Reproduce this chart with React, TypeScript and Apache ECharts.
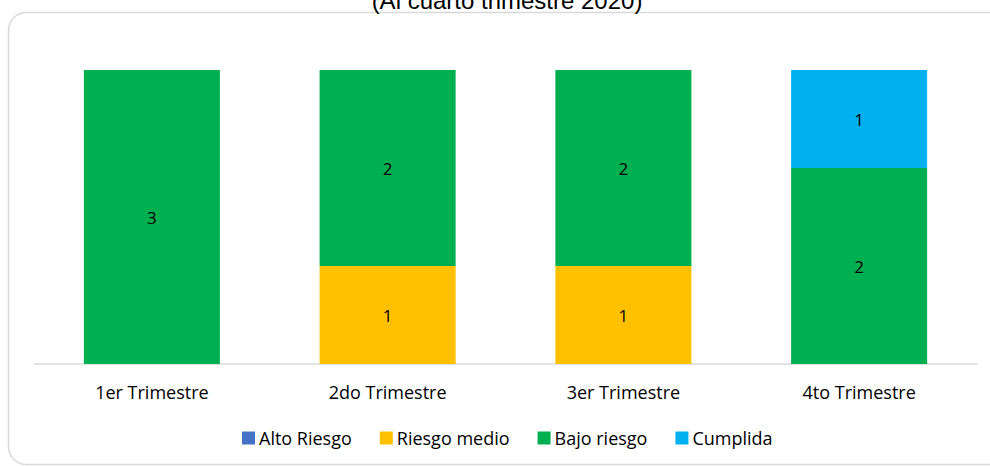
import React, { useEffect, useRef } from "react";
import * as echarts from "echarts";

const categories = ["1er Trimestre", "2do Trimestre", "3er Trimestre", "4to Trimestre"];
const altoRiesgo = [0, 0, 0, 0];
const riesgoMedio = [0, 1, 1, 0];
const bajoRiesgo = [3, 2, 2, 2];
const cumplida = [0, 0, 0, 1];
const seriesNames = ["Alto Riesgo", "Riesgo medio", "Bajo riesgo", "Cumplida"];
const seriesColors = ["#4472C4", "#FFC000", "#00B050", "#00B0F0"];
const titleText = "(Al cuarto trimestre 2020)";

const FONT = "'Open Sans'";

export default function App() {
  const ref = useRef<HTMLDivElement>(null);
  useEffect(() => {
    if (!ref.current) return;
    const chart = echarts.init(ref.current, null, { renderer: "svg" });
    const dataSets = [altoRiesgo, riesgoMedio, bajoRiesgo, cumplida];
    chart.setOption({
      animation: false,
      textStyle: { fontFamily: FONT },
      graphic: [
        {
          type: "rect",
          z: -10,
          shape: { x: 8.5, y: 12.5, width: 1000, height: 452, r: 18 },
          style: { fill: "#fff", stroke: "#d9d9d9", lineWidth: 1.5 },
        },
        {
          type: "text",
          x: 507,
          y: 12,
          style: {
            text: titleText,
            font: "24px 'Liberation Sans'",
            fill: "#000",
            align: "center",
            verticalAlign: "bottom",
          },
        },
      ],
      grid: { left: 34, right: 13, top: 70, bottom: 102, containLabel: false },
      legend: {
        bottom: 14,
        left: 237,
        itemWidth: 13,
        itemHeight: 13,
        itemGap: 28,
        icon: "rect",
        textStyle: { fontSize: 18, color: "#000", fontFamily: FONT, padding: [0, 0, 0, -1] },
        data: seriesNames,
      },
      xAxis: {
        type: "category",
        data: categories,
        axisLine: { lineStyle: { color: "#d9d9d9", width: 1.5 } },
        axisTick: { show: false },
        axisLabel: { fontSize: 18, color: "#000", margin: 19, fontFamily: FONT },
      },
      yAxis: {
        type: "value",
        min: 0,
        max: 3,
        interval: 1,
        show: false,
        splitLine: { show: false },
      },
      series: dataSets.map((d, i) => ({
        name: seriesNames[i],
        type: "bar",
        stack: "total",
        barWidth: "57.7%",
        itemStyle: { color: seriesColors[i] },
        data: d.map((v) => (v === 0 ? null : v)),
        label: {
          show: true,
          position: "inside",
          color: "#000",
          fontSize: 17,
          fontFamily: FONT,
        },
      })),
    });
    return () => chart.dispose();
  }, []);
  return (
    <div
      ref={ref}
      style={{ position: "fixed", left: 0, top: 0, width: 990, height: 466, background: "#fff" }}
    />
  );
}
